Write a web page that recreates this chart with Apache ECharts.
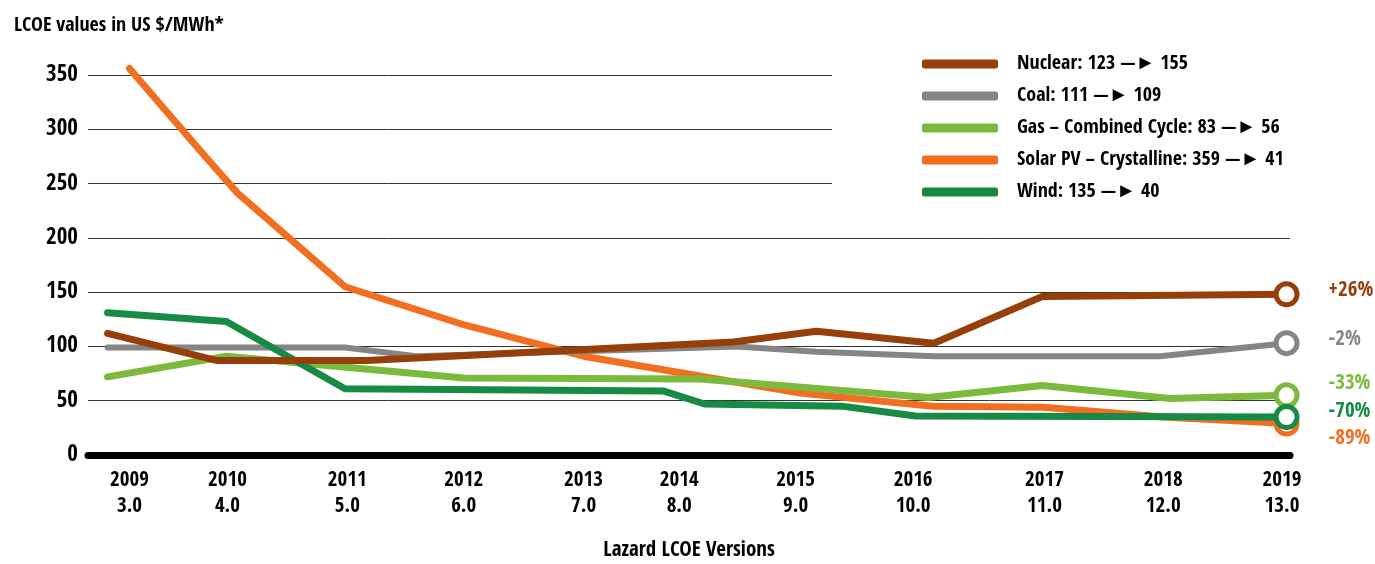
<!DOCTYPE html>
<html>
<head>
<meta charset="utf-8">
<script src="https://cdn.jsdelivr.net/npm/echarts@6/dist/echarts.min.js"></script>
<style>
  html, body { margin: 0; padding: 0; background: #fff; }
  #chart { width: 1375px; height: 564px; }
</style>
</head>
<body>
<div id="chart"></div>
<script>
// x values are positions along the version axis (label of version 3.0 sits at 3.0)
var years = ['2009', '2010', '2011', '2012', '2013', '2014', '2015', '2016', '2017', '2018', '2019'];
var versions = ['3.0', '4.0', '5.0', '6.0', '7.0', '8.0', '9.0', '10.0', '11.0', '12.0', '13.0'];
var versionPos = [3.00, 3.85, 4.89, 5.90, 6.94, 7.77, 8.78, 9.80, 10.94, 11.97, 13.00];

var names = ['Nuclear: 123 \u2014\u25BA 155', 'Coal: 111 \u2014\u25BA 109', 'Gas \u2013 Combined Cycle: 83 \u2014\u25BA 56',
  'Solar PV \u2013 Crystalline: 359 \u2014\u25BA 41', 'Wind: 135 \u2014\u25BA 40'];
var changes = ['+26%', '-2%', '-33%', '-89%', '-70%'];

var nuclear = [[2.81, 112], [3.76, 87], [5.06, 87], [8.24, 104], [8.96, 114], [9.98, 103], [10.92, 146], [13.04, 148]];
var coal = [[2.81, 99], [4.87, 99], [5.49, 91], [8.27, 100], [8.96, 95], [9.98, 91], [11.94, 91], [13.04, 103]];
var gas = [[2.81, 72], [3.84, 91], [5.90, 71], [7.95, 70], [9.93, 53], [10.92, 64], [12.03, 52], [13.04, 55]];
var solar = [[3.00, 356], [3.64, 277], [3.94, 241], [4.87, 155], [5.90, 120], [6.94, 91], [7.77, 76], [8.82, 57],
  [9.97, 45], [10.93, 44], [11.97, 35], [13.04, 29]];
var wind = [[2.81, 131], [3.84, 123], [4.87, 61], [7.63, 59], [7.99, 47], [9.18, 45], [9.82, 36], [13.04, 35]];

var font = '"Open Sans Condensed", "Roboto Condensed", sans-serif';
var colors = ['#973f0b', '#858585', '#7cba3d', '#f26f22', '#178a45'];

function makeSeries(i, data, labelDy) {
  var c = colors[i];
  var pts = data.map(function (d, k) {
    if (k < data.length - 1) return d;
    // hollow ring on the last point
    return {
      value: d,
      symbolSize: 21,
      itemStyle: { color: '#fff', borderColor: c, borderWidth: 5 }
    };
  });
  return {
    name: names[i],
    type: 'line',
    data: pts,
    clip: false,
    symbol: 'circle',
    symbolSize: 0,
    itemStyle: { color: c },
    lineStyle: { color: c, width: i === 1 ? 6 : 7, cap: 'round', join: 'round' },
    endLabel: {
      show: true,
      formatter: changes[i],
      color: c,
      fontFamily: font,
      fontWeight: 'bold',
      fontSize: 21,
      distance: 42,
      offset: [0, labelDy]
    },
    emphasis: { disabled: true }
  };
}

var myChart = echarts.init(document.getElementById('chart'));
var option = {
  animation: false,
  title: {
    text: 'LCOE values in US $/MWh*',
    left: 9,
    top: 11,
    textStyle: { fontFamily: font, fontWeight: 'bold', fontSize: 20, color: '#000' }
  },
  legend: {
    orient: 'vertical',
    left: 832,
    top: 29,
    padding: [25, 40, 20, 90],
    backgroundColor: '#fff',
    data: names,
    icon: 'roundRect',
    itemWidth: 76,
    itemHeight: 9,
    itemGap: 12,
    textStyle: { fontFamily: font, fontWeight: 'bold', fontSize: 20, color: '#000', padding: [0, 0, 0, 14] }
  },
  grid: { left: 88, right: 85, top: 75, bottom: 109, outerBoundsMode: 'none' },
  xAxis: {
    type: 'value',
    min: 2.64,
    max: 13.07,
    name: 'Lazard LCOE Versions',
    nameLocation: 'middle',
    nameGap: 85,
    nameTextStyle: { fontFamily: font, fontWeight: 'bold', fontSize: 21, color: '#000' },
    axisLine: { show: true, onZero: false, lineStyle: { color: '#000', width: 7, cap: 'round' } },
    axisTick: { show: false },
    splitLine: { show: false },
    axisLabel: {
      customValues: versionPos,
      margin: 13,
      fontFamily: font,
      fontWeight: 'bold',
      fontSize: 21,
      lineHeight: 26,
      color: '#000',
      formatter: function (v) {
        var k = 0;
        for (var j = 0; j < versionPos.length; j++) {
          if (Math.abs(versionPos[j] - v) < Math.abs(versionPos[k] - v)) k = j;
        }
        return years[k] + '\n' + versions[k];
      }
    }
  },
  yAxis: {
    type: 'value',
    min: 0,
    max: 350,
    interval: 50,
    axisLine: { show: false },
    axisTick: { show: false },
    splitLine: { lineStyle: { color: '#333', width: 1 } },
    axisLabel: { margin: 10, fontFamily: font, fontWeight: 'bold', fontSize: 23, color: '#000' }
  },
  series: [
    makeSeries(3, solar, 15),
    makeSeries(1, coal, -4),
    makeSeries(2, gas, -12),
    makeSeries(4, wind, -5),
    makeSeries(0, nuclear, -4)
  ]
};
myChart.setOption(option);
</script>
</body>
</html>
